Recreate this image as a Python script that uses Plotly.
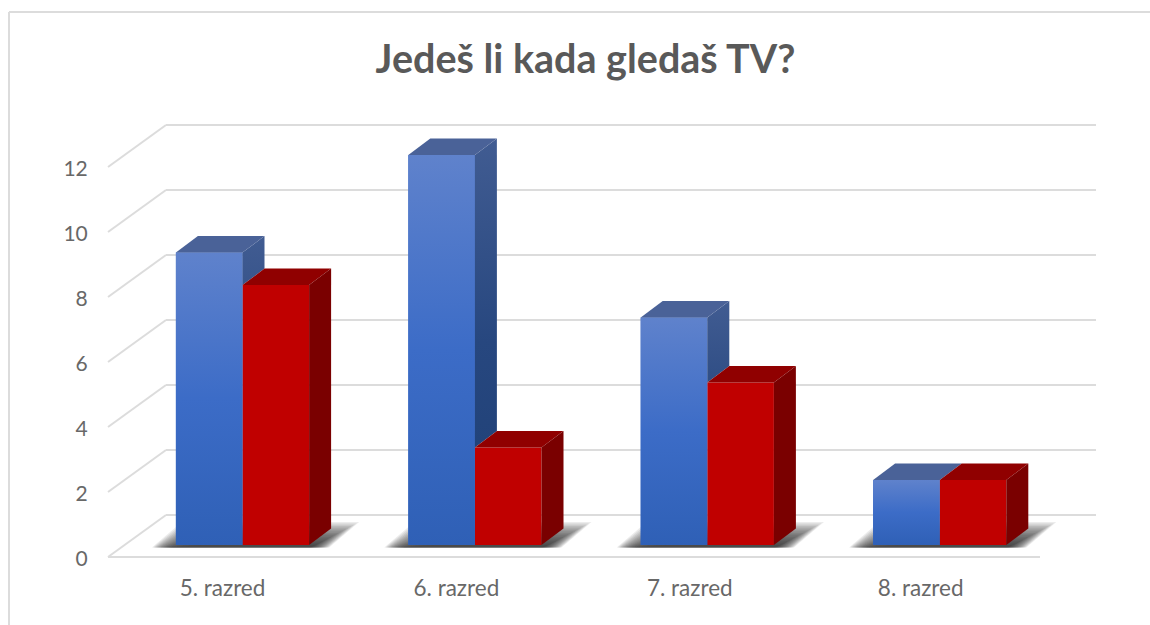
import plotly.graph_objects as go

categories = ["5. razred", "6. razred", "7. razred", "8. razred"]
blue_values = [9, 12, 7, 2]
red_values = [8, 3, 5, 2]
y_ticks = [0, 2, 4, 6, 8, 10, 12]
title_text = "Jedeš li kada gledaš TV?"

W, H = 1150, 625
PL, PR, PT, PB = 100, 1100, 100, 568
UX, UY = 232.4, 32.5
X0PX, Y0PX = 222.5, 557
dx = lambda px: px / UX
dy = lambda px: px / UY
BAR_W = dx(66.6)
GROUP_SHIFT = dx(-46.6)
BASE = dy(12)
DEPTH_X, DEPTH_Y = dx(22), dy(16.5)
WALL_X, WALL_Y = dx(58), dy(42)
LEFT_EDGE = (108 - X0PX) / UX
RIGHT_BACK = (1096 - X0PX) / UX
RIGHT_FRONT = (1040 - X0PX) / UX
LABEL_NUDGE = dy(1.5)
X_LABEL_NUDGE_PX = [0, 1.5, 2.5, 1]

GRID = "#dcdcdc"
TXT = "#595959"
TICK_TXT = "#686868"
RED, RED_TOP, RED_SIDE = "#c00000", "#900000", "#7a0000"
BLUE_TOP = "#4a6298"
BLUE_SCALE = [[0, "#2f60b6"], [0.5, "#3c6cc7"], [1, "#5f82cc"]]
BLUE_SIDE_SCALE = [[0, "#1d3f75"], [0.5, "#27477f"], [1, "#415c92"]]

fig = go.Figure()
shapes = []


def line(x0, y0, x1, y1):
    shapes.append(dict(type="line", layer="below", x0=x0, y0=y0, x1=x1, y1=y1,
                       line=dict(color=GRID, width=2)))


def poly_path(pts):
    return "M " + " L ".join(f"{x:.5f} {y:.5f}" for x, y in pts) + " Z"


# perspective grid
for v in y_ticks:
    line(LEFT_EDGE, v, LEFT_EDGE + WALL_X, v + WALL_Y)
    line(LEFT_EDGE + WALL_X, v + WALL_Y, RIGHT_BACK, v + WALL_Y)
line(LEFT_EDGE, 0, RIGHT_FRONT, 0)

# soft floor shadows, built from many faint nested layers
for i in range(len(categories)):
    left = i + GROUP_SHIFT
    right = left + 2 * BAR_W
    for k in range(18):
        ins = k * 1.6
        pts = [
            (left - dx(24 - ins * 0.7), BASE - dy(2.5)),
            (left + dx(6 + ins * 0.7), BASE + dy(23 - ins * 0.85)),
            (right + dx(50 - ins * 1.6), BASE + dy(23 - ins * 0.85)),
            (right + dx(20 - ins * 0.7), BASE - dy(2.5)),
        ]
        shapes.append(dict(type="path", layer="below", path=poly_path(pts),
                           fillcolor="rgba(40,40,40,0.085)", line=dict(width=0)))

xs = list(range(len(categories)))
fig.add_trace(go.Bar(x=xs, y=blue_values, base=BASE, width=BAR_W, offset=GROUP_SHIFT,
                     marker=dict(color="#3c6cc7", line=dict(width=0)), name="Serija 1",
                     hoverinfo="skip"))
fig.add_trace(go.Bar(x=xs, y=red_values, base=BASE, width=BAR_W, offset=GROUP_SHIFT + BAR_W,
                     marker=dict(color=RED, line=dict(width=0)), name="Serija 2",
                     hoverinfo="skip"))


def face(pts, color=None, scale=None, start=None, stop=None):
    xv = [p[0] for p in pts] + [pts[0][0]]
    yv = [p[1] for p in pts] + [pts[0][1]]
    kw = dict(fillcolor=color) if color else dict(
        fillgradient=dict(type="vertical", colorscale=scale, start=start, stop=stop))
    fig.add_trace(go.Scatter(x=xv, y=yv, mode="lines", fill="toself", line=dict(width=0),
                             hoverinfo="skip", showlegend=False, **kw))


for i, (b, r) in enumerate(zip(blue_values, red_values)):
    a0 = i + GROUP_SHIFT
    a1 = a0 + BAR_W
    a2 = a1 + BAR_W
    bt, rt = BASE + b, BASE + r
    # blue front gradient
    face([(a0, BASE), (a1, BASE), (a1, bt), (a0, bt)], scale=BLUE_SCALE, start=BASE, stop=bt)
    # blue side: visible only above the red bar's top face
    if b > r:
        face([(a1, rt), (a1 + DEPTH_X, rt + DEPTH_Y), (a1 + DEPTH_X, bt + DEPTH_Y), (a1, bt)],
             scale=BLUE_SIDE_SCALE, start=BASE, stop=bt + DEPTH_Y)
    face([(a0, bt), (a1, bt), (a1 + DEPTH_X, bt + DEPTH_Y), (a0 + DEPTH_X, bt + DEPTH_Y)], color=BLUE_TOP)
    # red faces
    face([(a1, rt), (a2, rt), (a2 + DEPTH_X, rt + DEPTH_Y), (a1 + DEPTH_X, rt + DEPTH_Y)], color=RED_TOP)
    face([(a2, BASE), (a2 + DEPTH_X, BASE + DEPTH_Y), (a2 + DEPTH_X, rt + DEPTH_Y), (a2, rt)], color=RED_SIDE)

# chart frame
px2x = lambda p: (p - PL) / (PR - PL)
px2y = lambda p: (PB - p) / (PB - PT)
shapes.append(dict(type="line", xref="paper", yref="paper", x0=px2x(9), x1=px2x(1150),
                   y0=px2y(12), y1=px2y(12), line=dict(color=GRID, width=2)))
shapes.append(dict(type="line", xref="paper", yref="paper", x0=px2x(9), x1=px2x(9),
                   y0=px2y(12), y1=px2y(625), line=dict(color=GRID, width=2)))

fig.update_layout(
    width=W, height=H, autosize=False, showlegend=False, barmode="overlay",
    paper_bgcolor="white", plot_bgcolor="rgba(0,0,0,0)",
    margin=dict(l=PL, r=W - PR, t=PT, b=H - PB, pad=0),
    title=dict(text=f"<b>{title_text}</b>", x=585.5 / W, xanchor="center", y=1 - 59.5 / H, yanchor="middle",
               font=dict(family="Lato", size=39.5, color=TXT)),
    font=dict(family="Lato", color=TICK_TXT),
    shapes=shapes,
    xaxis=dict(range=[(PL - X0PX) / UX, (PR - X0PX) / UX], tickmode="array",
               tickvals=[x + dx(n) for x, n in zip(xs, X_LABEL_NUDGE_PX)],
               ticktext=categories, showgrid=False, zeroline=False, showline=False,
               ticks="outside", ticklen=0, tickcolor="rgba(0,0,0,0)",
               tickfont=dict(size=22.5, color=TICK_TXT), automargin=False),
    yaxis=dict(range=[(Y0PX - PB) / UY, (Y0PX - PT) / UY], tickmode="array",
               tickvals=[v - LABEL_NUDGE for v in y_ticks], ticktext=[str(v) for v in y_ticks],
               showgrid=False, zeroline=False, showline=False,
               ticks="outside", ticklen=7, tickcolor="rgba(0,0,0,0)",
               tickfont=dict(size=21, color=TICK_TXT), automargin=False),
)
fig.write_html("out.html", config={"displayModeBar": False},
               post_script="document.body.style.margin='0';")
